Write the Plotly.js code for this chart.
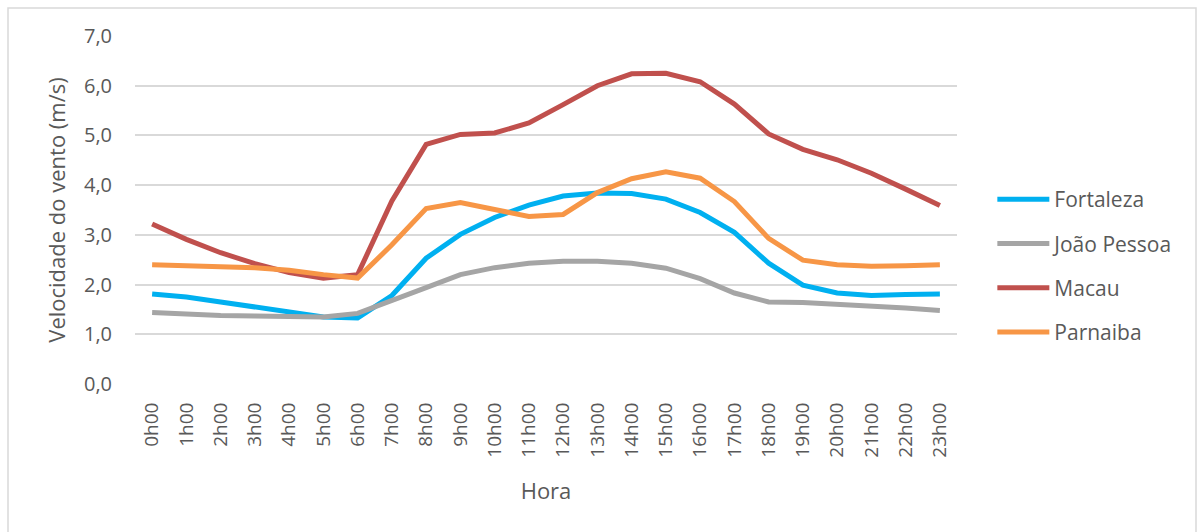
<!DOCTYPE html>
<html>
<head>
<meta charset="utf-8">
<script src="https://cdn.plot.ly/plotly-3.0.1.min.js"></script>
<style>
  body { margin: 0; background: #fff; }
  #plotArea { width: 1199px; height: 532px; }
</style>
</head>
<body>
<div id="plotArea"></div>
<script>
// hours on the x axis
var horas = ["0h00", "1h00", "2h00", "3h00", "4h00", "5h00", "6h00", "7h00", "8h00", "9h00",
    "10h00", "11h00", "12h00", "13h00", "14h00", "15h00", "16h00", "17h00", "18h00", "19h00",
    "20h00", "21h00", "22h00", "23h00"];

// wind speed (m/s) per station
var fortaleza = [1.81, 1.75, 1.65, 1.55, 1.45, 1.35, 1.33, 1.78, 2.53, 3.01, 3.35, 3.60,
    3.78, 3.84, 3.83, 3.72, 3.45, 3.05, 2.43, 1.99, 1.83, 1.78, 1.80, 1.81];
var joaoPessoa = [1.44, 1.40, 1.38, 1.37, 1.37, 1.35, 1.42, 1.69, 1.94, 2.20, 2.34, 2.43,
    2.47, 2.47, 2.43, 2.33, 2.12, 1.83, 1.65, 1.64, 1.61, 1.58, 1.53, 1.48];
var macau = [3.22, 2.91, 2.64, 2.42, 2.24, 2.13, 2.20, 3.68, 4.82, 5.02, 5.05, 5.25,
    5.62, 6.00, 6.24, 6.25, 6.08, 5.63, 5.03, 4.72, 4.51, 4.24, 3.92, 3.59];
var parnaiba = [2.40, 2.39, 2.36, 2.34, 2.29, 2.20, 2.13, 2.80, 3.53, 3.65, 3.52, 3.37,
    3.41, 3.85, 4.13, 4.27, 4.14, 3.67, 2.93, 2.49, 2.40, 2.37, 2.38, 2.40];

var yTicks = [0, 1, 2, 3, 4, 5, 6, 7];
var yTickText = ["0,0", "1,0", "2,0", "3,0", "4,0", "5,0", "6,0", "7,0"];

function serie(nome, valores, cor) {
    return {
        x: horas,
        y: valores,
        name: nome,
        legendgroup: nome,
        type: "scatter",
        mode: "lines",
        line: {color: cor, width: 5}
    };
}

var data = [
    serie("Fortaleza", fortaleza, "#00B0F0"),
    serie("João Pessoa", joaoPessoa, "#A5A5A5"),
    serie("Macau", macau, "#C0504D"),
    serie("Parnaiba", parnaiba, "#F79646")
];

var familia = "Open Sans, sans-serif";
var cinza = "#595959";

var layout = {
    width: 1199,
    height: 532,
    margin: {l: 135, r: 242, t: 36, b: 148},
    paper_bgcolor: "#fff",
    plot_bgcolor: "#fff",
    font: {family: familia, size: 18, color: cinza},
    showlegend: true,
    legend: {
        x: 1.043, y: 0.339, yanchor: "middle", xanchor: "left",
        font: {family: familia, size: 21, color: cinza},
        tracegroupgap: 14,
        itemwidth: 52,
        bgcolor: "rgba(0,0,0,0)"
    },
    xaxis: {
        type: "category",
        range: [-0.5, 23.5],
        tickangle: -90,
        tickfont: {family: familia, size: 19, color: cinza},
        showgrid: false,
        zeroline: false,
        showline: false,
        ticks: "outside",
        ticklen: 10,
        tickcolor: "rgba(0,0,0,0)",
        title: {text: "Hora", font: {family: familia, size: 22, color: cinza}, standoff: 26}
    },
    yaxis: {
        range: [0, 7],
        tickvals: yTicks,
        ticktext: yTickText,
        tickfont: {family: familia, size: 20, color: cinza},
        gridcolor: "#D9D9D9",
        gridwidth: 1.5,
        zeroline: false,
        showline: false,
        ticks: "outside",
        ticklen: 18,
        tickcolor: "rgba(0,0,0,0)",
        title: {text: "Velocidade do vento (m/s)", font: {family: familia, size: 22, color: cinza}, standoff: 12}
    },
    shapes: [{
        // outer chart frame
        type: "rect", xref: "paper", yref: "paper",
        x0: (8 - 135) / 822, x1: (1196 - 135) / 822,
        y0: (384 - 540) / 348, y1: 1 + (36 - 8) / 348,
        line: {color: "#D9D9D9", width: 1.5},
        layer: "below"
    }]
};

Plotly.newPlot("plotArea", data, layout, {displayModeBar: false});
</script>
</body>
</html>
